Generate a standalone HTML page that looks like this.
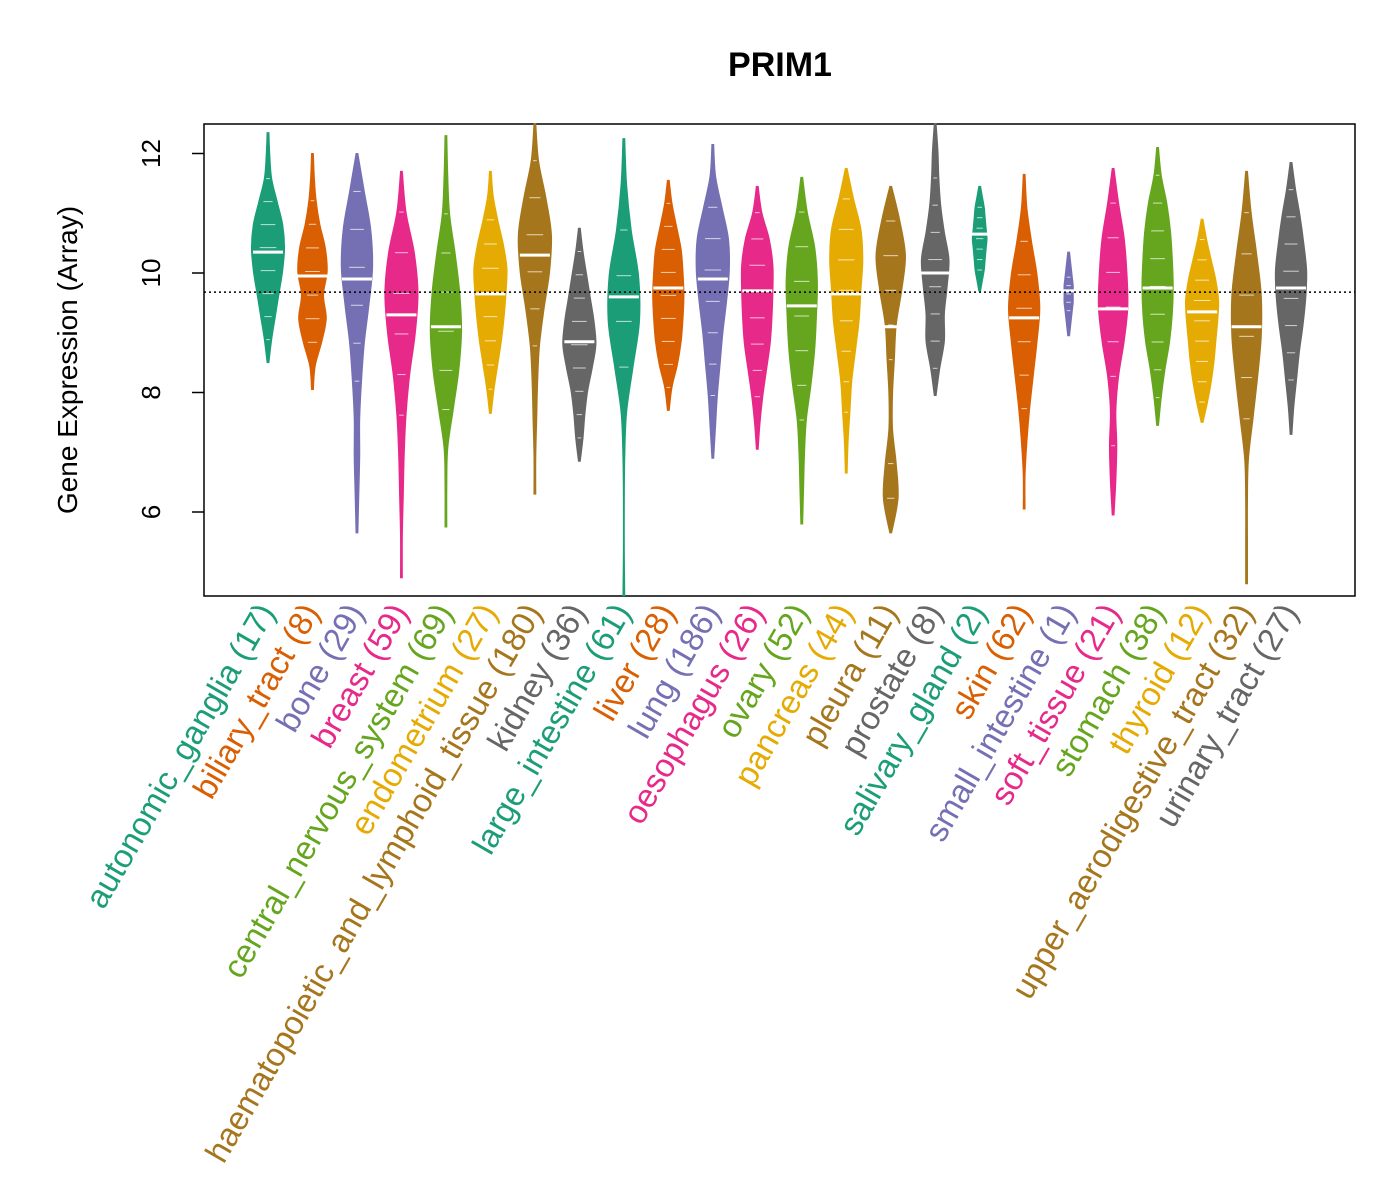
<!DOCTYPE html>
<html><head><meta charset="utf-8"><style>body{margin:0;background:#fff}svg{display:block}text{font-family:"Liberation Sans",sans-serif}</style></head>
<body>
<svg id="chart" width="1400" height="1200">
<text x="780" y="76" font-size="34" font-weight="bold" text-anchor="middle">PRIM1</text>
<text transform="translate(77,360) rotate(-90)" font-size="28" text-anchor="middle">Gene Expression (Array)</text>
<rect x="204" y="124" width="1151" height="472" fill="none" stroke="#000" stroke-width="1.5"/>
<g id="yaxis"></g><g id="violins"></g><g id="labels"></g>
</svg>
<script>
const categories=["autonomic_ganglia","biliary_tract","bone","breast","central_nervous_system","endometrium","haematopoietic_and_lymphoid_tissue","kidney","large_intestine","liver","lung","oesophagus","ovary","pancreas","pleura","prostate","salivary_gland","skin","small_intestine","soft_tissue","stomach","thyroid","upper_aerodigestive_tract","urinary_tract"];
const counts=[17,8,29,59,69,27,180,36,61,28,186,26,52,44,11,8,2,62,1,21,38,12,32,27];
const mins=[8.5,8.05,5.65,4.9,5.75,7.65,6.3,6.85,4.6,7.7,6.9,7.05,5.8,6.65,5.65,7.95,9.7,6.05,8.95,5.95,7.45,7.5,4.8,7.3];
const maxs=[12.35,12.0,12.0,11.7,12.3,11.7,12.5,10.75,12.25,11.55,12.15,11.45,11.6,11.75,11.45,12.5,11.45,11.65,10.35,11.75,12.1,10.9,11.7,11.85];
const medians=[10.35,9.95,9.9,9.3,9.1,9.65,10.3,8.85,9.6,9.75,9.9,9.7,9.45,9.65,9.1,10.0,10.65,9.25,9.7,9.4,9.75,9.35,9.1,9.75];
const densities=[
[1,4,8,12,16,18,16,10,4,2,1],[1,3,10,15,12,16,14,8,4,2,1],[1,2,3,3,5,8,13,17,15,8,1],[1,1,2,3,5,9,15,18,14,5,1],
[1,1,2,8,14,17,15,10,4,2,1],[1,4,8,12,15,17,18,14,8,3,1],[1,1,2,3,5,10,16,18,12,4,1],[1,4,6,9,14,18,16,12,8,4,1],
[1,0.5,0.5,1,3,10,17,16,8,3,1],[1,4,10,14,16,17,16,14,9,4,1],[1,3,5,8,11,15,18,17,10,3,1],[1,3,6,10,14,16,17,17,13,5,1],
[1,2,3,5,10,14,16,17,14,6,1],[1,2,4,6,10,14,16,18,16,8,1],[1,8,6,2,2,4,6,12,16,10,1],[1,5,10,10,13,15,10,6,4,3,1],
[1,3,5,6,7,8,7,6,5,3,1],[1,1,3,6,10,14,17,14,8,3,1],[1,2,3,4,5,5,5,4,3,2,1],[1,3,4,3,6,12,16,15,12,6,1],
[1,4,8,13,16,17,16,14,10,4,1],[1,6,10,13,15,17,18,15,10,5,1],[1,1,1,2,7,12,16,16,11,5,1],[1,3,6,9,13,16,17,14,10,5,1]];
const yTicks=[6,8,10,12];
const refLine=9.68;
const palette=["#1B9E77","#D95F02","#7570B3","#E7298A","#66A61E","#E6AB02","#A6761D","#666666"];
const NS="http://www.w3.org/2000/svg";
const WS=0.92;
function yS(v){return 273-(v-10)*59.75;}
function xS(i){return 268+i*44.48;}
function mk(tag,attrs,parent){const e=document.createElementNS(NS,tag);for(const k in attrs)e.setAttribute(k,attrs[k]);parent.appendChild(e);return e;}
const ya=document.getElementById('yaxis');
yTicks.forEach(t=>{
  const l=mk('line',{x1:192,x2:204,y1:yS(t),y2:yS(t),stroke:'#000','stroke-width':1.5},ya);
  
  
  const tx=mk('text',{transform:`translate(160,${yS(t)}) rotate(-90)`,'font-size':26,'text-anchor':'middle'},ya);
  tx.textContent=t;
  
  
});
const vg=document.getElementById('violins');
const lg=document.getElementById('labels');
categories.forEach((c,i)=>{
  const col=palette[i%8],x=xS(i),d=densities[i],n=d.length;
  const pts=d.map((w,k)=>[w*WS,yS(mins[i]+(maxs[i]-mins[i])*k/(n-1))]);
  function path(sign){let s='';for(let k=0;k<n-1;k++){const p0=pts[Math.max(k-1,0)],p1=pts[k],p2=pts[k+1],p3=pts[Math.min(k+2,n-1)];
    const c1=[p1[0]+(p2[0]-p0[0])/6,p1[1]+(p2[1]-p0[1])/6],c2=[p2[0]-(p3[0]-p1[0])/6,p2[1]-(p3[1]-p1[1])/6];
    s+=` C${x+sign*c1[0]},${c1[1]} ${x+sign*c2[0]},${c2[1]} ${x+sign*p2[0]},${p2[1]}`;}return s;}
  let dd=`M${x},${yS(mins[i])} L${x+pts[0][0]},${pts[0][1]}`+path(1);
  let back='';for(let k=n-1;k>0;k--){const p0=pts[Math.min(k+1,n-1)],p1=pts[k],p2=pts[k-1],p3=pts[Math.max(k-2,0)];
    const c1=[p1[0]+(p2[0]-p0[0])/6,p1[1]+(p2[1]-p0[1])/6],c2=[p2[0]-(p3[0]-p1[0])/6,p2[1]-(p3[1]-p1[1])/6];
    back+=` C${x-c1[0]},${c1[1]} ${x-c2[0]},${c2[1]} ${x-p2[0]},${p2[1]}`;}
  dd+=` L${x-pts[n-1][0]},${pts[n-1][1]}`+back+' Z';
  const ln=mk('line',{x1:x,x2:x,y1:yS(mins[i]),y2:yS(maxs[i]),stroke:col,'stroke-width':1.5},vg);
  
  
  const p=mk('path',{d:dd,fill:col,stroke:col,'stroke-width':1},vg);
  
  
  for(let k=1;k<n-1;k++){if(d[k]<4)continue;const yy=pts[k][1];
    const t=mk('line',{x1:x-pts[k][0]*0.5,x2:x+pts[k][0]*0.5,y1:yy,y2:yy,stroke:'#fff','stroke-width':1,opacity:0.7},vg);
    
    }
  const m=mk('line',{x1:x-15,x2:x+15,y1:yS(medians[i]),y2:yS(medians[i]),stroke:'#fff','stroke-width':3},vg);
  
  
  const tx=mk('text',{transform:`translate(${x+8},${612}) rotate(-60)`,'font-size':33,'text-anchor':'end',fill:col},lg);
  tx.textContent=`${c} (${counts[i]})`;
  
  
});
const rl=mk('line',{x1:204,x2:1355,y1:yS(refLine),y2:yS(refLine),stroke:'#000','stroke-width':1.5,'stroke-dasharray':'2,3'},vg);


</script>
</body></html>
